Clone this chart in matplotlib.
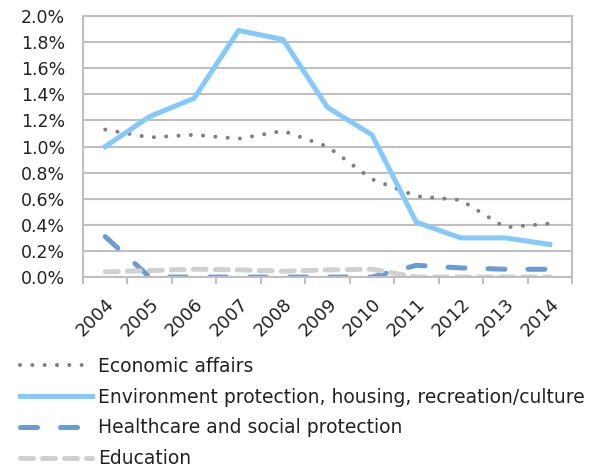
import matplotlib
matplotlib.use("Agg")
import matplotlib.pyplot as plt
from matplotlib.ticker import FuncFormatter, FixedLocator

plt.rcParams['font.family'] = ['DejaVu Sans']

years = ['2004', '2005', '2006', '2007', '2008', '2009', '2010',
         '2011', '2012', '2013', '2014']
economic = [1.13, 1.07, 1.09, 1.06, 1.12, 1.00, 0.75, 0.62, 0.59, 0.38, 0.41]
environment = [1.00, 1.23, 1.37, 1.89, 1.82, 1.30, 1.09, 0.42, 0.30, 0.30, 0.25]
healthcare = [0.31, 0.00, 0.00, 0.00, 0.00, 0.00, 0.00, 0.09, 0.07, 0.06, 0.06]
education = [0.04, 0.05, 0.06, 0.055, 0.045, 0.055, 0.06, 0.00, 0.00, 0.00, 0.00]

fig = plt.figure(figsize=(6.15, 4.72), dpi=100)
ax = fig.add_axes([0.135, 0.413, 0.795, 0.553])

x = range(len(years))
ax.plot(x, economic, color='#7f7f7f', lw=2.9, ls=(0, (0.01, 3.05)),
        dash_capstyle='round', label='Economic affairs')
ax.plot(x, environment, color='#85c8fa', lw=3.6,
        label='Environment protection, housing, recreation/culture')
ax.plot(x, healthcare, color='#6b9bd2', lw=3.6, ls=(0, (3.4, 4.6)),
        dash_capstyle='round', label='Healthcare and social protection')
ax.plot(x, education, color='#d0d0d0', lw=3.6, ls=(0, (2.6, 1.8)),
        dash_capstyle='round', label='Education')

ax.set_xlim(-0.5, len(years) - 0.5)
ax.set_ylim(0, 2.0)
ax.set_yticks([i * 0.2 for i in range(11)])
ax.yaxis.set_major_formatter(FuncFormatter(lambda v, p: f'{v:.1f}%'))
ax.yaxis.grid(True, color='#bfbfbf', lw=1.5)
ax.set_axisbelow(True)
ax.tick_params(axis='y', length=0, labelsize=12.5, pad=13, labelcolor='#222222')

ax.xaxis.set_major_locator(FixedLocator([i - 0.5 for i in range(len(years) + 1)]))
ax.xaxis.set_major_formatter(FuncFormatter(lambda v, p: ''))
ax.set_xticks(list(x), minor=True)
ax.set_xticklabels(years, minor=True, rotation=45, ha='right',
                   rotation_mode='anchor', fontsize=13, color='#222222')
ax.tick_params(axis='x', which='major', length=5, color='#bfbfbf', width=1.5)
ax.tick_params(axis='x', which='minor', length=0, pad=13)

for s in ax.spines.values():
    s.set_color('#bfbfbf')
    s.set_linewidth(1.5)

leg = ax.legend(loc='upper left', bbox_to_anchor=(0.0325, 0.244),
                bbox_transform=fig.transFigure, frameon=False,
                fontsize=13.5, handlelength=3.84, handletextpad=0.32,
                labelspacing=0.63, borderaxespad=0, borderpad=0)
for t in leg.get_texts():
    t.set_color('#222222')

fig.savefig('out.png', dpi=100)
